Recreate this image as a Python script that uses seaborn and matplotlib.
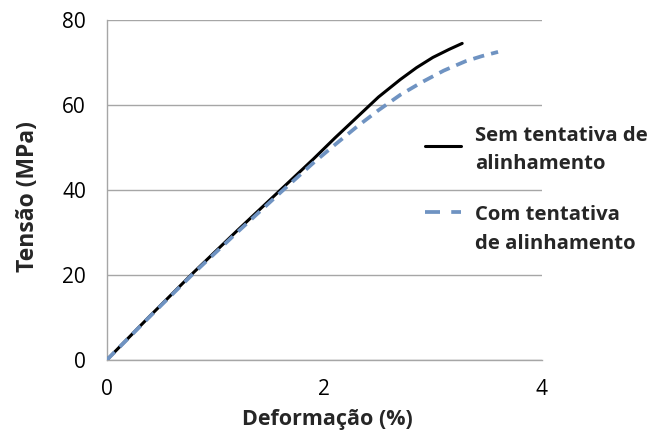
import matplotlib
matplotlib.use("Agg")
import matplotlib.pyplot as plt
from matplotlib.legend_handler import HandlerLine2D
import seaborn as sns
import pandas as pd

# Stress-strain curves for the two specimen preparations
strain_sem = [0.0, 0.4, 0.8, 1.2, 1.6, 1.9, 2.1, 2.3, 2.5, 2.7, 2.85, 3.0, 3.15, 3.27]
stress_sem = [0.0, 10.4, 20.6, 30.4, 40.0, 47.2, 52.2, 57.0, 61.8, 65.9, 68.7, 71.1, 73.0, 74.4]

strain_com = [0.0, 0.4, 0.8, 1.2, 1.6, 1.9, 2.1, 2.3, 2.5, 2.7, 2.9, 3.1, 3.3, 3.45, 3.6]
stress_com = [0.0, 10.3, 20.4, 30.0, 39.4, 46.3, 50.6, 54.8, 58.7, 62.3, 65.3, 68.0, 70.2, 71.4, 72.4]

series_names = ["Sem tentativa de\nalinhamento", "Com tentativa\nde alinhamento"]
x_ticks = [0, 2, 4]
y_ticks = [0, 20, 40, 60, 80]

df = pd.concat([
    pd.DataFrame({"Deformação": strain_sem, "Tensão": stress_sem, "Série": series_names[0]}),
    pd.DataFrame({"Deformação": strain_com, "Tensão": stress_com, "Série": series_names[1]}),
])

sns.set_style("white")
plt.rcParams["font.family"] = ["Open Sans", "DejaVu Sans"]

fig = plt.figure(figsize=(6.47, 4.32), dpi=100)
ax = fig.add_axes([0.165, 0.1667, 0.672, 0.788])

grid_color = "#a6a6a6"
ax.set_axisbelow(True)
ax.yaxis.grid(True, color=grid_color, linewidth=1.0)
ax.xaxis.grid(False)

palette = {series_names[0]: "#000000", series_names[1]: "#6f93c2"}
dashes = {series_names[0]: "", series_names[1]: (3.0, 1.9)}
sns.lineplot(data=df, x="Deformação", y="Tensão", hue="Série", style="Série",
             palette=palette, dashes=dashes, sort=False, estimator=None,
             linewidth=2.4, ax=ax, legend=False)
lines = ax.get_lines()
lines[0].set_linewidth(2.2)
lines[1].set_linewidth(2.7)
lines[0].set_zorder(3)
lines[1].set_zorder(4)
for ln in lines:
    ln.set_solid_joinstyle("round")
    ln.set_dash_joinstyle("round")

ax.set_xlim(0, 4)
ax.set_ylim(0, 80)
ax.set_xticks(x_ticks)
ax.set_yticks(y_ticks)

for side in ["top", "right"]:
    ax.spines[side].set_visible(False)
for side in ["left", "bottom"]:
    ax.spines[side].set_color(grid_color)
    ax.spines[side].set_linewidth(1.0)

ax.tick_params(axis="both", direction="out", length=6, width=1.0, color=grid_color,
               labelsize=15, labelcolor="black")
ax.tick_params(axis="y", pad=9)
ax.tick_params(axis="x", pad=8)

ax.set_xlabel("Deformação (%)", fontsize=15.5, fontweight="bold", labelpad=6)
ax.set_ylabel("Tensão (MPa)", fontsize=16.5, fontweight="bold", labelpad=16)
ax.xaxis.label.set_x(0.507)
ax.yaxis.label.set_y(0.48)


class RaisedHandler(HandlerLine2D):
    """Legend line handler that shifts the sample line vertically."""

    def __init__(self, dy, dash=None, **kw):
        super().__init__(**kw)
        self.dy = dy
        self.dash = dash

    def create_artists(self, legend, orig_handle, xdescent, ydescent, width,
                       height, fontsize, trans):
        artists = super().create_artists(legend, orig_handle, xdescent, ydescent,
                                         width, height, fontsize, trans)
        for a in artists:
            a.set_ydata([y + self.dy for y in a.get_ydata()])
            if self.dash is not None:
                a.set_linestyle((0, self.dash))
        return artists


leg = ax.legend(lines, series_names, loc="upper left", bbox_to_anchor=(0.657, 0.709),
                bbox_transform=fig.transFigure, frameon=False, handlelength=1.75,
                handletextpad=0.72, labelspacing=1.5, borderpad=0, borderaxespad=0,
                prop={"size": 14.6, "weight": "bold"},
                handler_map={lines[0]: RaisedHandler(3.0),
                             lines[1]: RaisedHandler(12.5, dash=(4.0, 3.0))})
for t in leg.get_texts():
    t.set_linespacing(1.58)

fig.savefig("out.png", dpi=100)
